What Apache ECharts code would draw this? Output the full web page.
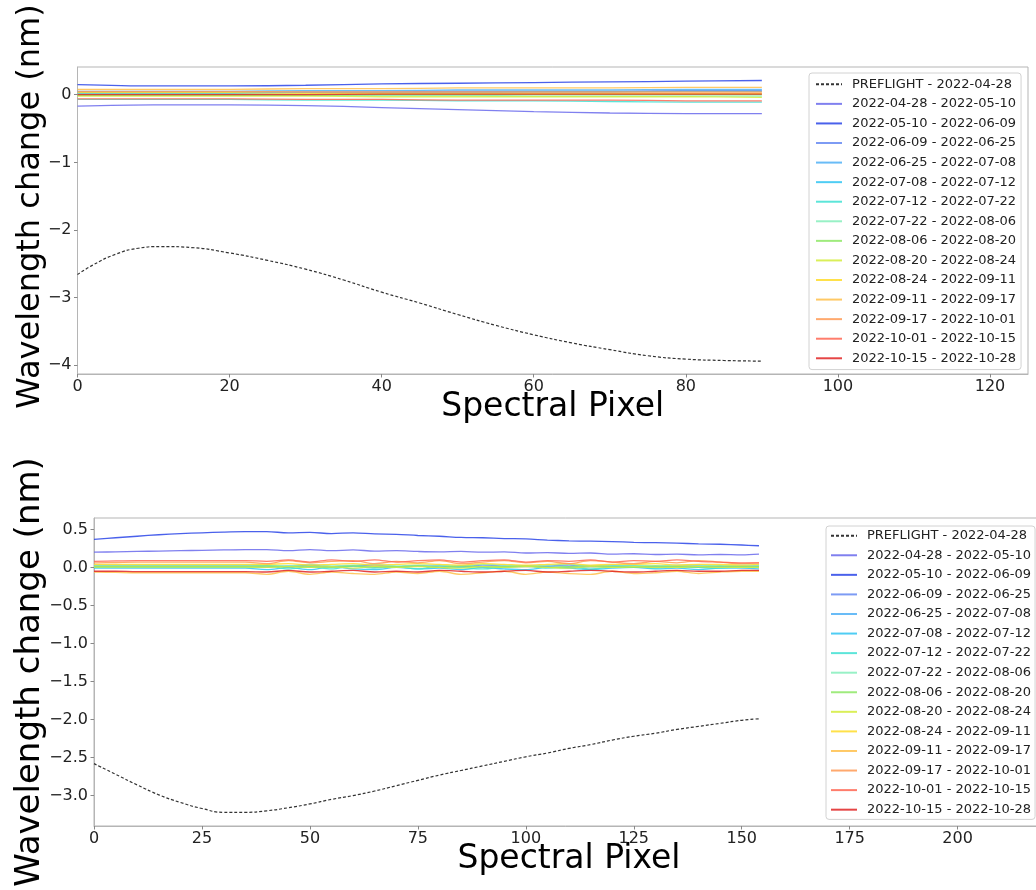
<!DOCTYPE html>
<html>
<head>
<meta charset="utf-8">
<title>Wavelength change</title>
<script src="https://cdn.jsdelivr.net/npm/echarts@6.0.0/dist/echarts.min.js"></script>
<style>
html, body { margin: 0; padding: 0; background: #fff; }
#container { width: 1036px; height: 890px; }
</style>
</head>
<body>
<div id="container"></div>
<script>
// legend names, same for both panels
var periods = [
	'PREFLIGHT - 2022-04-28',
	'2022-04-28 - 2022-05-10',
	'2022-05-10 - 2022-06-09',
	'2022-06-09 - 2022-06-25',
	'2022-06-25 - 2022-07-08',
	'2022-07-08 - 2022-07-12',
	'2022-07-12 - 2022-07-22',
	'2022-07-22 - 2022-08-06',
	'2022-08-06 - 2022-08-20',
	'2022-08-20 - 2022-08-24',
	'2022-08-24 - 2022-09-11',
	'2022-09-11 - 2022-09-17',
	'2022-09-17 - 2022-10-01',
	'2022-10-01 - 2022-10-15',
	'2022-10-15 - 2022-10-28'
];
var lineColors = ['#333333', '#6a6aec', '#2a45e8', '#6689f2', '#4fb0f6', '#30c4f2', '#3fe0d2',
	'#86eebc', '#8ee866', '#d4ec3c', '#ffdc2a', '#ffc04a', '#ff9a55', '#ff6652', '#e02424'];

// upper panel
var topPreX = [0, 2, 5, 8, 11, 15, 20, 25, 30, 35, 40, 45, 50, 55, 60, 65, 70, 75, 80, 85, 90];
var topPreflight = [-2.66, -2.52, -2.36, -2.27, -2.245, -2.26, -2.34, -2.45, -2.58, -2.74, -2.92,
	-3.08, -3.25, -3.41, -3.55, -3.67, -3.77, -3.86, -3.91, -3.93, -3.94];
var topX = [0, 10, 20, 30, 40, 50, 60, 70, 80, 90];
var topShifts = [
	[-0.17, -0.15, -0.15, -0.16, -0.19, -0.22, -0.25, -0.27, -0.28, -0.28],
	[0.15, 0.13, 0.13, 0.14, 0.16, 0.17, 0.18, 0.19, 0.20, 0.21],
	[0.03, 0.03, 0.03, 0.04, 0.04, 0.05, 0.05, 0.05, 0.06, 0.06],
	[0.05, 0.05, 0.05, 0.06, 0.06, 0.07, 0.07, 0.07, 0.08, 0.08],
	[0.02, 0.02, 0.02, 0.03, 0.03, 0.03, 0.04, 0.04, 0.05, 0.05],
	[-0.07, -0.07, -0.07, -0.08, -0.08, -0.09, -0.09, -0.10, -0.11, -0.11],
	[0.00, 0.00, 0.00, -0.01, -0.01, -0.01, -0.02, -0.02, -0.02, -0.02],
	[-0.01, -0.01, -0.01, -0.01, 0.00, 0.00, 0.00, 0.00, 0.00, 0.00],
	[-0.02, -0.02, -0.02, -0.02, -0.03, -0.03, -0.03, -0.03, -0.03, -0.04],
	[0.03, 0.03, 0.03, 0.02, 0.02, 0.02, 0.02, 0.02, 0.02, 0.02],
	[0.08, 0.08, 0.08, 0.09, 0.09, 0.10, 0.10, 0.10, 0.11, 0.11],
	[0.05, 0.05, 0.05, 0.04, 0.04, 0.04, 0.04, 0.04, 0.04, 0.04],
	[-0.06, -0.06, -0.06, -0.07, -0.07, -0.08, -0.08, -0.08, -0.09, -0.09],
	[0.00, 0.00, 0.00, 0.00, 0.01, 0.01, 0.01, 0.01, 0.01, 0.01]
];
var topYTicks = [-4, -3, -2, -1, 0];

// lower panel
var bottomX = [0, 5, 10, 15, 20, 25, 30, 35, 40, 45, 50, 55, 60, 65, 70, 75, 80, 85, 90, 95,
	100, 105, 110, 115, 120, 125, 130, 135, 140, 145, 150, 154];
var bottomPreflight = [-2.58, -2.72, -2.86, -2.99, -3.09, -3.17, -3.22, -3.22, -3.20, -3.16, -3.11,
	-3.05, -3.00, -2.94, -2.87, -2.80, -2.73, -2.67, -2.61, -2.55, -2.49, -2.44, -2.38, -2.33,
	-2.27, -2.22, -2.18, -2.13, -2.09, -2.05, -2.01, -1.99];
var bottomShifts = [
	[0.20, 0.205, 0.21, 0.215, 0.22, 0.225, 0.23, 0.235, 0.235, 0.22, 0.235, 0.22, 0.23, 0.215, 0.22, 0.21,
		0.205, 0.21, 0.20, 0.205, 0.19, 0.195, 0.185, 0.19, 0.175, 0.18, 0.17, 0.175, 0.165, 0.17, 0.165, 0.175],
	[0.37, 0.39, 0.41, 0.43, 0.445, 0.455, 0.465, 0.47, 0.47, 0.455, 0.46, 0.445, 0.455, 0.44, 0.435, 0.42,
		0.41, 0.395, 0.39, 0.38, 0.375, 0.36, 0.35, 0.345, 0.34, 0.33, 0.325, 0.32, 0.31, 0.305, 0.295, 0.285],
	[0.02, 0.02, 0.02, 0.02, 0.02, 0.02, 0.02, 0.02, 0.02, 0.01, 0.03, 0.01, 0.02, 0.03, 0.01, 0.02,
		0.02, 0.01, 0.03, 0.02, 0.01, 0.02, 0.03, 0.01, 0.02, 0.02, 0.01, 0.02, 0.02, 0.01, 0.02, 0.02],
	[0.01, 0.01, 0.01, 0.01, 0.01, 0.01, 0.01, 0.01, 0.00, 0.02, 0.00, 0.01, 0.02, 0.00, 0.01, 0.02,
		0.00, 0.01, 0.01, 0.00, 0.02, 0.01, 0.00, 0.01, 0.02, 0.00, 0.01, 0.01, 0.00, 0.01, 0.01, 0.01],
	[-0.01, -0.01, -0.01, -0.01, -0.01, -0.01, -0.01, -0.01, -0.03, 0.00, -0.03, 0.01, -0.02, -0.03, 0.00, -0.02,
		-0.01, -0.03, 0.00, -0.02, -0.03, 0.00, -0.01, -0.03, -0.01, 0.00, -0.02, -0.01, -0.03, -0.01, -0.01, -0.02],
	[0.00, 0.00, 0.00, 0.00, 0.00, 0.00, 0.00, 0.00, 0.02, -0.02, 0.01, -0.02, 0.02, -0.01, 0.01, -0.02,
		0.02, 0.00, -0.02, 0.01, 0.02, -0.01, 0.01, -0.02, 0.01, 0.02, -0.01, 0.01, 0.00, -0.01, 0.01, 0.00],
	[0.03, 0.03, 0.03, 0.03, 0.03, 0.03, 0.03, 0.03, 0.03, 0.02, 0.04, 0.02, 0.03, 0.04, 0.02, 0.03,
		0.03, 0.02, 0.04, 0.03, 0.02, 0.03, 0.04, 0.02, 0.03, 0.03, 0.02, 0.03, 0.03, 0.02, 0.03, 0.03],
	[0.015, 0.015, 0.015, 0.015, 0.015, 0.015, 0.015, 0.015, 0.02, 0.01, 0.02, 0.00, 0.02, 0.01, 0.01, 0.02,
		0.00, 0.02, 0.01, 0.01, 0.02, 0.00, 0.01, 0.02, 0.01, 0.00, 0.02, 0.01, 0.01, 0.02, 0.01, 0.01],
	[0.005, 0.005, 0.005, 0.005, 0.005, 0.005, 0.005, 0.005, 0.00, 0.01, 0.00, 0.01, -0.01, 0.01, 0.00, 0.01,
		0.00, -0.01, 0.01, 0.00, 0.01, 0.00, -0.01, 0.01, 0.00, 0.01, 0.00, 0.00, 0.01, 0.00, 0.00, 0.00],
	[0.04, 0.04, 0.04, 0.04, 0.04, 0.04, 0.04, 0.04, 0.04, 0.05, 0.03, 0.04, 0.05, 0.03, 0.04, 0.05,
		0.04, 0.03, 0.05, 0.04, 0.03, 0.04, 0.05, 0.03, 0.04, 0.04, 0.05, 0.03, 0.04, 0.04, 0.03, 0.04],
	[-0.06, -0.065, -0.07, -0.07, -0.07, -0.07, -0.07, -0.07, -0.09, -0.05, -0.09, -0.06, -0.08, -0.09, -0.06, -0.08,
		-0.05, -0.09, -0.07, -0.05, -0.09, -0.06, -0.08, -0.09, -0.05, -0.08, -0.07, -0.05, -0.08, -0.06, -0.05, -0.05],
	[0.06, 0.065, 0.07, 0.07, 0.07, 0.07, 0.07, 0.07, 0.05, 0.09, 0.06, 0.08, 0.09, 0.05, 0.08, 0.06,
		0.09, 0.05, 0.07, 0.09, 0.06, 0.08, 0.05, 0.09, 0.07, 0.05, 0.08, 0.06, 0.09, 0.07, 0.05, 0.06],
	[0.08, 0.085, 0.09, 0.09, 0.09, 0.09, 0.09, 0.09, 0.08, 0.10, 0.07, 0.10, 0.08, 0.10, 0.07, 0.09,
		0.10, 0.07, 0.09, 0.10, 0.07, 0.09, 0.08, 0.10, 0.07, 0.09, 0.08, 0.10, 0.08, 0.07, 0.06, 0.06],
	[-0.05, -0.05, -0.055, -0.055, -0.055, -0.055, -0.055, -0.055, -0.06, -0.04, -0.06, -0.05, -0.04, -0.06, -0.05, -0.06,
		-0.04, -0.05, -0.06, -0.05, -0.04, -0.06, -0.05, -0.04, -0.05, -0.06, -0.05, -0.04, -0.05, -0.05, -0.04, -0.04]
];
var bottomYTicks = [-3, -2.5, -2, -1.5, -1, -0.5, 0, 0.5];

var FONT = 'DejaVu Sans';
var frameColor = '#b5b5b5';

function pairs(xs, ys) {
	var r = [];
	for (var i = 0; i < xs.length; i++) r.push([xs[i], ys[i]]);
	return r;
}

function lineSeries(name, idx, points, gridIdx) {
	var dashed = idx === 0;
	return {
		type: 'line',
		name: name,
		xAxisIndex: gridIdx,
		yAxisIndex: gridIdx,
		data: points,
		symbol: 'none',
		smooth: dashed ? 0.5 : 0.35,
		lineStyle: {
			color: lineColors[idx],
			width: dashed ? 1.2 : 1.3,
			type: dashed ? [3, 2] : 'solid',
			opacity: dashed ? 1 : 0.85
		},
		itemStyle: { color: lineColors[idx] },
		emphasis: { disabled: true },
		z: 2 + idx
	};
}

function minusLabel(digits) {
	return function (v) {
		var s = Math.abs(v).toFixed(digits);
		return v < 0 ? '\u2212' + s : s;
	};
}

function legendBox(top, left, pad) {
	return {
		orient: 'vertical',
		left: left,
		top: top,
		padding: pad,
		itemWidth: 26,
		itemHeight: 13,
		itemGap: 6.57,
		backgroundColor: 'rgba(255,255,255,0.85)',
		borderColor: '#d2d2d2',
		borderWidth: 1,
		borderRadius: 3,
		data: periods,
		// only the line sample, no marker dot
		itemStyle: { opacity: 0, borderWidth: 0 },
		textStyle: { fontFamily: FONT, fontSize: 13, color: '#222', lineHeight: 13, padding: [0, 0, 0, 5] }
	};
}

function xAxisOf(gridIdx, max, interval) {
	return {
		type: 'value',
		gridIndex: gridIdx,
		min: 0,
		max: max,
		interval: interval,
		name: 'Spectral Pixel',
		nameLocation: 'middle',
		nameGap: 17,
		nameMoveOverlap: false,
		nameTextStyle: { fontFamily: FONT, fontSize: 33, color: '#000' },
		axisLine: { show: true, onZero: false, lineStyle: { color: frameColor } },
		axisTick: { show: true, length: 3.5, lineStyle: { color: '#888' } },
		axisLabel: { fontFamily: FONT, fontSize: 16, color: '#222', margin: 5, showMaxLabel: false },
		splitLine: { show: false }
	};
}

function yAxisOf(gridIdx, min, max, ticks, digits, size, gap, shift) {
	return {
		type: 'value',
		gridIndex: gridIdx,
		min: min,
		max: max,
		name: 'Wavelength change (nm)',
		nameLocation: 'middle',
		nameRotate: 90,
		nameGap: gap,
		nameMoveOverlap: false,
		nameTextStyle: { fontFamily: FONT, fontSize: size, color: '#000', padding: [0, 0, 0, shift] },
		axisLine: { show: true, onZero: false, lineStyle: { color: frameColor } },
		axisTick: { show: true, length: 3.5, customValues: ticks, lineStyle: { color: '#888' } },
		axisLabel: { fontFamily: FONT, fontSize: 16, color: '#222', margin: 6, customValues: ticks, formatter: minusLabel(digits) },
		splitLine: { show: false }
	};
}

window.onload = function () {
	var series = [];
	series.push(lineSeries(periods[0], 0, pairs(topPreX, topPreflight), 0));
	for (var i = 0; i < topShifts.length; i++) {
		series.push(lineSeries(periods[i + 1], i + 1, pairs(topX, topShifts[i]), 0));
	}
	series.push(lineSeries(periods[0], 0, pairs(bottomX, bottomPreflight), 1));
	for (var j = 0; j < bottomShifts.length; j++) {
		series.push(lineSeries(periods[j + 1], j + 1, pairs(bottomX, bottomShifts[j]), 1));
	}

	var myChart = echarts.init(document.getElementById('container'), null, { renderer: 'canvas' });
	myChart.setOption({
		animation: false,
		backgroundColor: '#fff',
		textStyle: { fontFamily: FONT },
		grid: [
			{ left: 77.5, top: 67, right: 8, height: 307, show: true, borderColor: frameColor, borderWidth: 1, outerBoundsMode: 'none' },
			{ left: 94, top: 518, right: -8, height: 308, show: true, borderColor: frameColor, borderWidth: 1, outerBoundsMode: 'none' }
		],
		xAxis: [xAxisOf(0, 125, 20), xAxisOf(1, 220, 25)],
		yAxis: [
			yAxisOf(0, -4.13, 0.41, topYTicks, 0, 32, 31, 28),
			yAxisOf(1, -3.40, 0.65, bottomYTicks, 1, 34, 47, 0)
		],
		legend: [
			legendBox(73, 809, [4.8, 5, 4.8, 6]),
			legendBox(526, 826, [3.2, 4, 3.2, 4])
		],
		series: series
	});
};
</script>
</body>
</html>
